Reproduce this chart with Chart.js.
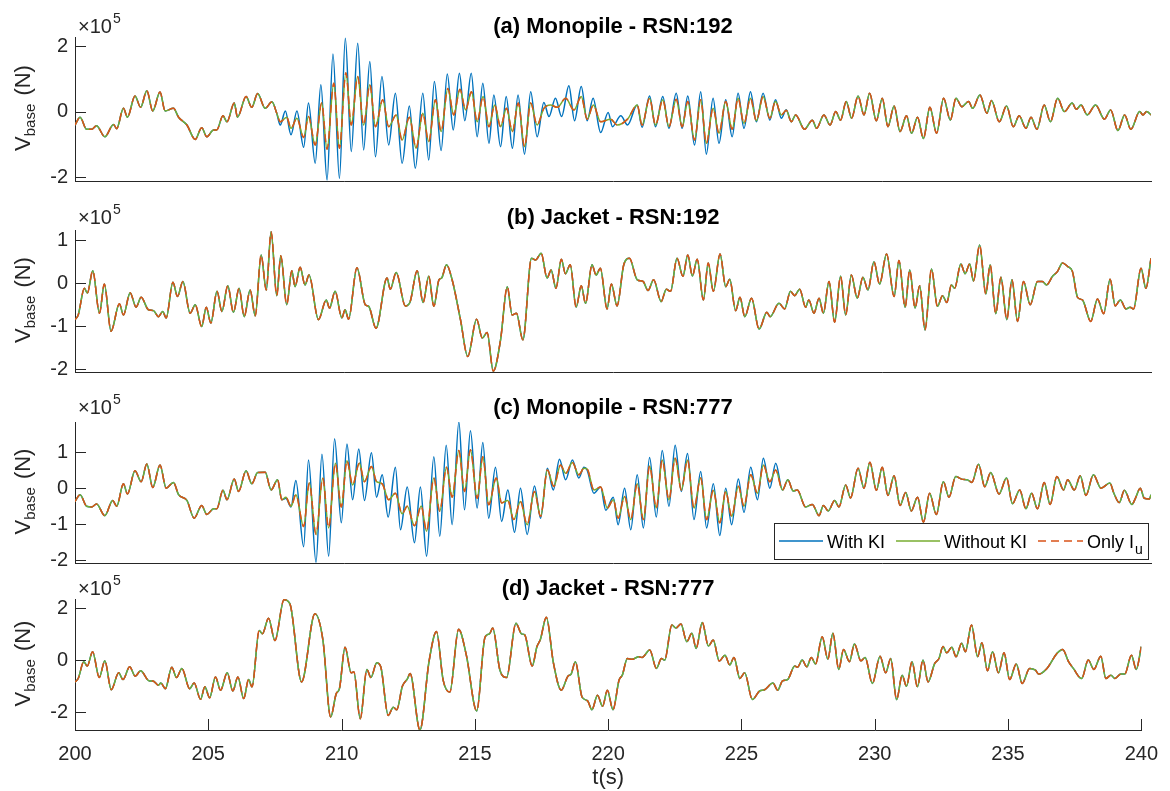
<!DOCTYPE html>
<html>
<head>
<meta charset="utf-8">
<script src="https://cdn.jsdelivr.net/npm/chart.js@4.4.1/dist/chart.umd.min.js"></script>
<style>
  html, body { margin: 0; padding: 0; background: #fff; }
  #wrap { position: relative; width: 1170px; height: 791px; }
  #wrap canvas { position: absolute; left: 0; top: 0; }
</style>
</head>
<body>
<div id="wrap">
  <canvas id="pa" width="1170" height="791"></canvas>
  <canvas id="pb" width="1170" height="791"></canvas>
  <canvas id="pc" width="1170" height="791"></canvas>
  <canvas id="pd" width="1170" height="791"></canvas>
</div>
<script>
// ─── DATA (t in s, V_base in units of 1e5 N) ─────────────────
const xTicks = [200, 205, 210, 215, 220, 225, 230, 235, 240];
const aTicks = [-2, 0, 2];
const bTicks = [-2, -1, 0, 1];
const cTicks = [-2, -1, 0, 1];
const dTicks = [-2, 0, 2];

// (a) Monopile - RSN:192
const aEarly = [[200.00,-0.41],[200.19,-0.17],[200.43,-0.54],[200.62,-0.54],[200.80,-0.43],[201.11,-0.77],[201.43,-0.39],[201.55,-0.52],[201.80,0.10],[201.95,-0.17],[202.23,0.48],[202.44,0.13],[202.67,0.64],[202.89,0.02],[203.16,0.60],[203.35,0.02],[203.66,0.10],[203.85,-0.17],[204.16,-0.41],[204.47,-0.85],[204.71,-0.49],[204.90,-0.77],[205.15,-0.56],[205.27,-0.56],[205.50,-0.13],[205.65,-0.31],[205.92,0.26],[206.04,-0.17],[206.36,0.46],[206.57,0.13],[206.79,0.55],[207.07,0.10],[207.32,0.30]];
const aWithMid = [[207.50,-0.05],[207.63,-0.41],[207.82,0.02],[208.03,-0.71],[208.25,0.02],[208.50,-1.09],[208.68,0.26],[208.93,-1.58],[209.14,0.82],[209.37,-2.09],[209.59,1.76],[209.83,-2.04],[210.05,2.24],[210.27,-1.22],[210.51,2.09],[210.73,-1.17],[210.96,1.53],[211.17,-1.38],[211.41,1.07],[211.66,-1.02],[211.91,0.56],[212.16,-1.58],[212.43,0.17],[212.65,-1.73],[212.93,0.56],[213.15,-1.48],[213.36,0.92],[213.61,-1.19],[213.84,1.15],[214.06,-0.56],[214.29,1.17],[214.49,-0.28],[214.73,1.17],[214.95,-0.77],[215.16,0.87],[215.39,-0.97],[215.57,0.51],[215.82,-1.07],[216.03,0.46],[216.26,-1.12],[216.47,0.51],[216.71,-1.30],[216.94,0.61],[217.18,-0.77],[217.43,0.28],[217.62,-0.15],[217.86,0.41],[218.09,-0.15],[218.36,0.79],[218.57,-0.28],[218.82,0.77],[219.04,-0.28],[219.26,0.41],[219.54,-0.64],[219.82,-0.03],[219.98,-0.46],[220.29,-0.13],[220.54,-0.41],[220.90,0.20],[221.08,-0.48],[221.36,0.48],[221.58,-0.46],[221.85,0.46],[222.08,-0.51],[222.35,0.56],[222.57,-0.51],[222.78,0.48],[223.03,-1.02],[223.26,0.61],[223.47,-1.30],[223.72,0.41],[223.94,-0.97],[224.19,0.36],[224.43,-0.77],[224.65,0.56],[224.87,-0.51],[225.11,0.61],[225.33,-0.31],[225.58,0.56],[225.83,-0.26],[226.04,0.36],[226.26,-0.20],[226.44,0.06]];
const aWithoutMid = [[207.50,-0.05],[207.63,-0.31],[207.87,-0.17],[208.03,-0.51],[208.25,-0.20],[208.50,-0.79],[208.68,-0.15],[208.93,-1.02],[209.17,0.26],[209.37,-1.15],[209.62,0.87],[209.83,-1.12],[210.07,1.19],[210.27,-0.41],[210.51,1.07],[210.73,-0.41],[210.96,0.82],[211.17,-0.46],[211.44,0.36],[211.66,-0.46],[211.94,-0.10],[212.16,-0.87],[212.43,-0.17],[212.68,-1.12],[212.93,-0.05],[213.15,-0.92],[213.40,0.36],[213.61,-0.61],[213.86,0.71],[214.08,-0.10],[214.31,0.68],[214.52,0.05],[214.74,0.61],[214.95,-0.31],[215.17,0.46],[215.39,-0.46],[215.60,0.20],[215.82,-0.46],[216.04,0.10],[216.26,-0.61],[216.48,0.26],[216.71,-1.07],[216.94,0.26],[217.18,-0.41],[217.43,0.10],[217.68,0.20],[217.93,0.13],[218.24,0.41],[218.55,0.05],[218.82,0.46],[219.04,-0.23],[219.27,0.20],[219.54,-0.31],[219.91,-0.23],[220.16,-0.41],[220.54,-0.23],[220.90,0.20],[221.08,-0.41],[221.36,0.41],[221.58,-0.41],[221.85,0.36],[222.08,-0.46],[222.35,0.38],[222.57,-0.46],[222.78,0.31],[223.03,-0.87],[223.26,0.36],[223.47,-0.97],[223.72,0.10],[223.94,-0.66],[224.19,0.31],[224.43,-0.54],[224.65,0.41],[224.87,-0.36],[225.11,0.41],[225.33,-0.28],[225.58,0.46],[225.83,-0.20],[226.04,0.31],[226.26,-0.10],[226.44,0.04]];
const aTail = [[226.63,-0.31],[226.79,-0.10],[227.12,-0.54],[227.41,-0.26],[227.57,-0.51],[227.84,-0.10],[228.07,-0.41],[228.28,0.00],[228.46,-0.26],[228.67,0.31],[228.87,-0.20],[229.11,0.48],[229.33,-0.10],[229.54,0.56],[229.79,-0.28],[230.01,0.41],[230.22,-0.46],[230.45,0.17],[230.67,-0.61],[230.91,-0.13],[231.10,-0.66],[231.32,-0.17],[231.54,-0.82],[231.78,0.13],[232.03,-0.66],[232.29,0.41],[232.54,-0.26],[232.75,0.41],[232.97,0.15],[233.22,0.31],[233.37,0.10],[233.64,0.51],[233.90,-0.05],[234.07,0.34],[234.36,-0.31],[234.63,0.17],[234.88,-0.46],[235.10,-0.13],[235.35,-0.51],[235.54,-0.17],[235.76,-0.54],[236.03,0.20],[236.26,-0.31],[236.53,0.41],[236.78,0.00],[237.07,0.26],[237.22,0.07],[237.40,0.20],[237.63,-0.10],[237.94,0.20],[238.27,-0.23],[238.50,0.05],[238.77,-0.58],[239.02,-0.10],[239.25,-0.54],[239.58,0.00],[239.70,-0.10],[239.84,0.00],[240.00,-0.10]];

// (b) Jacket - RSN:192 (the three cases overlap)
const bAll = [[200.00,-0.85],[200.12,-0.74],[200.35,-0.12],[200.46,-0.23],[200.66,0.29],[200.91,-0.70],[201.09,-0.02],[201.34,-1.12],[201.65,-0.48],[201.80,-0.74],[202.05,-0.22],[202.27,-0.56],[202.46,-0.33],[202.73,-0.62],[202.92,-0.64],[203.10,-0.78],[203.26,-0.66],[203.39,-0.81],[203.64,0.02],[203.81,-0.31],[204.01,0.04],[204.28,-0.70],[204.47,-0.50],[204.71,-1.01],[204.88,-0.56],[205.05,-0.93],[205.28,-0.19],[205.46,-0.66],[205.68,-0.06],[205.89,-0.68],[206.10,-0.12],[206.29,-0.78],[206.51,-0.16],[206.70,-0.76],[206.92,0.66],[207.11,-0.16],[207.29,1.20],[207.50,-0.29],[207.65,0.64],[207.87,-0.50],[208.06,0.29],[208.18,-0.08],[208.37,0.37],[208.55,-0.04],[208.70,0.19],[209.05,-0.85],[209.34,-0.39],[209.46,-0.58],[209.67,-0.19],[209.92,-0.81],[210.04,-0.62],[210.17,-0.84],[210.48,0.36],[210.79,-0.50],[210.92,-0.54],[211.19,-1.05],[211.60,0.12],[211.72,-0.14],[211.94,0.25],[212.28,-0.53],[212.46,-0.43],[212.72,0.29],[212.94,-0.45],[213.15,0.16],[213.34,-0.54],[213.53,0.08],[213.63,0.12],[213.81,0.43],[214.02,0.08],[214.33,-0.85],[214.60,-1.71],[214.93,-0.84],[215.14,-1.28],[215.32,-1.15],[215.55,-2.05],[215.82,-1.32],[216.07,-0.08],[216.25,-0.74],[216.41,-0.70],[216.65,-1.32],[216.97,0.58],[217.12,0.54],[217.33,0.70],[217.55,0.12],[217.70,0.31],[217.88,-0.12],[218.08,0.56],[218.23,0.22],[218.41,0.43],[218.63,-0.56],[218.82,-0.06],[218.98,-0.47],[219.22,0.43],[219.37,0.19],[219.53,0.35],[219.78,-0.60],[219.94,-0.02],[220.15,-0.53],[220.40,0.43],[220.61,0.58],[220.90,0.08],[221.12,0.04],[221.30,-0.17],[221.51,0.08],[221.79,-0.43],[221.98,-0.14],[222.14,-0.19],[222.38,0.58],[222.60,0.16],[222.78,0.66],[222.95,0.17],[223.13,0.56],[223.36,-0.39],[223.54,0.47],[223.73,-0.19],[223.98,0.68],[224.19,-0.08],[224.34,0.09],[224.56,-0.64],[224.72,-0.33],[224.90,-0.78],[225.15,-0.35],[225.43,-1.07],[225.72,-0.68],[225.84,-0.78],[226.17,-0.47],[226.38,-0.60],[226.60,-0.19],[226.75,-0.29],[226.94,-0.14],[227.16,-0.56],[227.28,-0.39],[227.47,-0.70],[227.66,-0.35],[227.82,-0.70],[228.03,0.04],[228.24,-0.91],[228.46,0.16],[228.65,-0.74],[228.86,0.19],[229.08,-0.35],[229.29,0.14],[229.48,-0.16],[229.70,0.50],[229.91,-0.02],[230.17,0.68],[230.45,-0.31],[230.63,0.53],[230.86,-0.56],[231.03,0.31],[231.23,-0.58],[231.40,-0.06],[231.60,-1.09],[231.84,0.33],[232.06,-0.54],[232.25,-0.29],[232.41,-0.45],[232.58,-0.04],[232.70,-0.12],[232.93,0.45],[233.09,0.22],[233.26,0.45],[233.40,0.05],[233.63,0.89],[233.86,-0.25],[234.02,0.43],[234.23,-0.71],[234.42,0.14],[234.64,-0.85],[234.83,0.08],[235.04,-0.89],[235.26,0.04],[235.51,-0.50],[235.78,0.04],[235.96,0.04],[236.12,-0.04],[236.34,0.16],[236.52,0.27],[236.71,0.47],[236.90,0.39],[237.08,0.27],[237.27,-0.33],[237.45,-0.39],[237.76,-0.89],[238.01,-0.37],[238.24,-0.71],[238.48,0.09],[238.67,-0.53],[238.86,-0.39],[239.07,-0.60],[239.22,-0.56],[239.35,-0.60],[239.63,0.35],[239.81,-0.12],[240.00,0.58]];

// (c) Monopile - RSN:777
const cEarly = [[200.00,-0.37],[200.19,-0.18],[200.43,-0.50],[200.62,-0.52],[200.80,-0.44],[201.11,-0.76],[201.40,-0.34],[201.55,-0.50],[201.80,0.12],[201.95,-0.16],[202.23,0.48],[202.46,0.18],[202.67,0.67],[202.89,0.02],[203.16,0.64],[203.39,0.00],[203.66,0.16],[203.85,-0.18],[204.16,-0.34],[204.43,-0.83],[204.71,-0.48],[204.90,-0.73],[205.15,-0.57],[205.27,-0.57],[205.50,-0.06],[205.65,-0.32],[205.92,0.25],[206.08,-0.09],[206.36,0.48],[206.57,0.12],[206.79,0.43],[207.07,0.44],[207.29,-0.05],[207.53,0.23],[207.69,-0.32]];
const cWithMid = [[207.84,-0.28],[208.03,-0.52],[208.21,0.21],[208.50,-1.62],[208.68,0.78],[208.96,-2.05],[209.18,0.94],[209.43,-1.88],[209.65,1.37],[209.90,-0.96],[210.11,1.22],[210.32,-0.32],[210.55,1.08],[210.76,-0.34],[211.02,0.98],[211.21,-0.25],[211.42,0.37],[211.64,-0.80],[211.91,0.58],[212.10,-1.15],[212.35,0.03],[212.62,-1.51],[212.84,0.03],[213.07,-1.88],[213.34,0.87],[213.56,-1.33],[213.80,1.19],[214.02,-1.01],[214.27,1.83],[214.48,-0.60],[214.70,1.59],[214.95,-0.55],[215.16,1.26],[215.38,-0.83],[215.63,0.58],[215.86,-0.92],[216.09,-0.05],[216.34,-1.22],[216.56,0.00],[216.81,-1.28],[217.08,0.06],[217.31,-0.83],[217.56,0.55],[217.78,-0.05],[218.01,0.80],[218.24,0.23],[218.49,0.78],[218.73,0.28],[218.92,0.58],[219.04,0.50],[219.29,-0.14],[219.54,0.03],[219.73,-0.61],[220.01,-0.25],[220.19,-1.01],[220.43,0.00],[220.66,-1.15],[220.90,0.37],[221.13,-1.10],[221.36,0.85],[221.61,-0.80],[221.83,1.04],[222.08,-0.50],[222.31,1.19],[222.54,-0.09],[222.77,0.96],[223.01,-0.87],[223.26,0.46],[223.48,-1.10],[223.73,0.12],[223.97,-1.31],[224.19,0.00],[224.41,-1.01],[224.66,0.25],[224.87,-0.67],[225.12,0.58],[225.37,-0.32],[225.59,0.83],[225.83,0.00],[226.05,0.69]];
const cWithoutMid = [[207.84,-0.25],[208.03,-0.50],[208.21,-0.18],[208.50,-1.06],[208.71,0.14],[208.96,-1.28],[209.21,0.28],[209.43,-1.10],[209.68,0.69],[209.90,-0.52],[210.11,0.76],[210.32,0.09],[210.57,0.69],[210.76,0.18],[211.02,0.60],[211.21,0.18],[211.42,0.12],[211.66,-0.32],[211.91,-0.14],[212.16,-0.71],[212.35,-0.50],[212.62,-1.04],[212.87,-0.49],[213.07,-1.19],[213.34,0.28],[213.56,-0.64],[213.81,0.58],[214.02,-0.25],[214.27,1.04],[214.48,-0.09],[214.70,1.06],[214.95,-0.28],[215.16,0.87],[215.38,-0.46],[215.66,0.28],[215.86,-0.41],[216.09,-0.34],[216.31,-0.87],[216.56,-0.37],[216.81,-1.01],[217.08,-0.09],[217.31,-0.78],[217.56,0.50],[217.80,0.05],[218.05,0.64],[218.24,0.41],[218.49,0.71],[218.73,0.37],[218.92,0.55],[219.04,0.53],[219.29,-0.05],[219.54,0.03],[219.79,-0.55],[220.01,-0.32],[220.19,-0.83],[220.43,-0.23],[220.66,-0.87],[220.90,0.12],[221.13,-0.87],[221.36,0.61],[221.61,-0.55],[221.83,0.78],[222.08,-0.32],[222.31,0.83],[222.54,-0.05],[222.77,0.78],[223.01,-0.55],[223.26,0.28],[223.48,-0.87],[223.73,-0.06],[223.97,-0.96],[224.19,-0.09],[224.41,-0.78],[224.66,0.05],[224.87,-0.50],[225.12,0.37],[225.37,-0.14],[225.59,0.64],[225.83,0.18],[226.05,0.50]];
const cTail = [[226.30,-0.05],[226.50,0.23],[226.70,-0.08],[226.85,-0.05],[227.16,-0.52],[227.41,-0.45],[227.66,-0.76],[227.82,-0.48],[228.00,-0.63],[228.24,-0.34],[228.40,-0.52],[228.65,0.09],[228.83,-0.27],[229.11,0.55],[229.33,0.00],[229.55,0.72],[229.79,-0.06],[230.01,0.58],[230.22,-0.20],[230.45,0.34],[230.67,-0.48],[230.88,-0.12],[231.09,-0.63],[231.32,-0.25],[231.54,-0.94],[231.77,-0.14],[232.02,-0.73],[232.28,0.18],[232.49,-0.25],[232.74,0.32],[232.96,0.25],[233.18,0.23],[233.34,0.16],[233.59,0.66],[233.82,0.04],[234.04,0.43],[234.35,-0.16],[234.63,0.28],[234.85,-0.43],[235.12,-0.05],[235.35,-0.57],[235.56,-0.14],[235.78,-0.57],[236.03,0.16],[236.25,-0.45],[236.50,0.32],[236.75,-0.05],[236.90,0.23],[237.15,-0.05],[237.37,0.34],[237.58,-0.20],[237.86,0.37],[238.14,0.00],[238.47,0.14],[238.62,-0.14],[238.82,-0.40],[239.01,-0.06],[239.29,-0.45],[239.42,-0.28],[239.60,0.00],[239.75,-0.28],[239.94,-0.30],[240.00,-0.18]];

// (d) Jacket - RSN:777 (the three cases overlap)
const dAll = [[200.00,-0.84],[200.12,-0.71],[200.33,-0.06],[200.46,-0.23],[200.66,0.32],[200.91,-0.67],[201.12,-0.03],[201.36,-1.14],[201.64,-0.49],[201.80,-0.75],[202.05,-0.26],[202.26,-0.62],[202.46,-0.41],[202.79,-0.80],[202.92,-0.80],[203.13,-0.97],[203.22,-0.88],[203.39,-1.10],[203.63,-0.28],[203.81,-0.67],[204.01,-0.32],[204.30,-1.10],[204.47,-0.88],[204.71,-1.51],[204.87,-1.03],[205.05,-1.45],[205.27,-0.65],[205.46,-1.16],[205.71,-0.49],[205.92,-1.19],[206.11,-0.65],[206.33,-1.48],[206.51,-0.75],[206.64,-1.03],[206.91,1.14],[207.03,1.01],[207.26,1.61],[207.50,0.75],[207.84,2.32],[208.06,2.17],[208.50,-0.84],[209.00,1.78],[209.30,0.77],[209.59,-2.19],[209.80,-1.29],[209.92,-1.10],[210.13,0.49],[210.36,-0.49],[210.46,-0.45],[210.70,-2.26],[210.95,-0.36],[211.10,-0.67],[211.32,-0.10],[211.47,-0.26],[211.75,-2.13],[211.94,-1.81],[212.07,-1.91],[212.28,-1.01],[212.47,-0.72],[212.57,-0.52],[212.94,-2.69],[213.28,-0.06],[213.56,1.10],[213.81,-0.77],[214.06,-1.23],[214.39,1.19],[214.68,0.19],[215.07,-1.96],[215.38,0.88],[215.55,1.01],[215.67,1.23],[215.94,-0.39],[216.19,-0.67],[216.54,1.42],[216.75,1.01],[216.87,0.97],[217.15,-0.23],[217.33,0.52],[217.46,0.80],[217.68,1.65],[217.95,-0.13],[218.24,-1.16],[218.49,-0.62],[218.61,-0.54],[218.77,-0.06],[219.02,-1.42],[219.23,-1.57],[219.39,-1.91],[219.60,-1.35],[219.79,-1.78],[219.97,-1.16],[220.18,-1.91],[220.41,-0.77],[220.53,-0.58],[220.72,0.06],[220.90,0.03],[221.15,0.13],[221.27,0.10],[221.56,0.39],[221.81,-0.32],[222.00,0.06],[222.12,0.00],[222.39,1.35],[222.54,1.23],[222.73,1.39],[222.95,0.71],[223.14,1.03],[223.30,0.45],[223.53,1.45],[223.76,0.54],[223.94,0.77],[224.17,-0.04],[224.38,0.19],[224.56,-0.19],[224.72,0.10],[224.94,-0.71],[225.12,-0.49],[225.41,-1.52],[225.68,-1.19],[225.87,-1.14],[226.18,-0.88],[226.36,-1.16],[226.54,-0.80],[226.73,-0.75],[227.00,-0.23],[227.10,-0.28],[227.28,0.00],[227.45,-0.26],[227.62,0.10],[227.78,-0.15],[228.03,0.90],[228.24,0.03],[228.43,1.03],[228.65,-0.36],[228.83,0.41],[229.05,-0.06],[229.24,0.62],[229.48,-0.03],[229.64,0.10],[229.91,-0.90],[230.20,0.15],[230.41,-0.49],[230.60,0.06],[230.82,-1.52],[231.03,-0.58],[231.19,-1.01],[231.40,-0.06],[231.60,-1.03],[231.81,0.00],[232.00,-0.84],[232.25,-0.13],[232.41,0.06],[232.56,0.52],[232.70,0.28],[232.89,0.49],[233.05,0.13],[233.26,0.65],[233.40,0.32],[233.63,1.35],[233.86,0.13],[234.02,0.67],[234.23,-0.41],[234.42,0.32],[234.64,-0.49],[234.85,0.28],[235.06,-0.75],[235.31,-0.15],[235.53,-0.90],[235.81,-0.32],[236.03,-0.39],[236.15,-0.54],[236.46,-0.32],[236.84,0.26],[237.05,0.41],[237.27,-0.06],[237.45,-0.32],[237.76,-0.71],[238.01,0.00],[238.22,-0.36],[238.48,0.15],[238.67,-0.71],[238.86,-0.58],[239.01,-0.71],[239.23,-0.54],[239.38,-0.54],[239.63,0.19],[239.81,-0.36],[240.00,0.52]];

// ─── STYLE ───────────────────────────────────────────────────
const FONT  = '"Liberation Sans", Arial, Helvetica, sans-serif';
const AXIS  = '#262626';
const BLUE  = '#0072BD';
const GREEN = '#77AC30';
const ORANGE = '#D95319';
const XAXIS_H = 40;   // room under panel (d) for the tick labels

const panels = [
  { id: 'pa', title: '(a) Monopile - RSN:192', top: 37,  bottom: 181, min: -2.12, max: 2.28, ticks: aTicks, titleY: 33,
    withKI: aEarly.concat(aWithMid, aTail), withoutKI: aEarly.concat(aWithoutMid, aTail) },
  { id: 'pb', title: '(b) Jacket - RSN:192',   top: 230, bottom: 372, min: -2.07, max: 1.24, ticks: bTicks, titleY: 224,
    withKI: bAll, withoutKI: bAll },
  { id: 'pc', title: '(c) Monopile - RSN:777', top: 422, bottom: 563, min: -2.07, max: 1.83, ticks: cTicks, titleY: 414,
    withKI: cEarly.concat(cWithMid, cTail), withoutKI: cEarly.concat(cWithoutMid, cTail), legend: true },
  { id: 'pd', title: '(d) Jacket - RSN:777',   top: 599, bottom: 730, min: -2.69, max: 2.35, ticks: dTicks, titleY: 595,
    withKI: dAll, withoutKI: dAll, xLabels: true }
];

const toXY = pts => pts.map(([t, v]) => ({ x: t, y: v }));

// ─── DECORATION (titles, ×10^5, labels, inward ticks, legend) ─
function decor(p) {
  return {
    id: 'decor_' + p.id,
    afterDraw(chart) {
      const ctx = chart.ctx;
      const { left, right, top, bottom } = chart.chartArea;
      const xs = chart.scales.x, ys = chart.scales.y;
      ctx.save();

      // inward tick marks
      ctx.strokeStyle = AXIS;
      ctx.lineWidth = 1;
      ctx.beginPath();
      p.ticks.forEach(v => {
        const y = Math.round(ys.getPixelForValue(v)) + 0.5;
        ctx.moveTo(left, y); ctx.lineTo(left + 11, y);
      });
      if (p.xLabels) {
        xTicks.forEach(v => {
          const x = Math.round(xs.getPixelForValue(v)) + 0.5;
          ctx.moveTo(x, bottom); ctx.lineTo(x, bottom - 11);
        });
      }
      ctx.stroke();

      // title
      ctx.fillStyle = '#000';
      ctx.font = `bold 22px ${FONT}`;
      ctx.textAlign = 'center';
      ctx.textBaseline = 'alphabetic';
      ctx.fillText(p.title, (left + right) / 2, p.titleY);

      // exponent ×10^5
      ctx.fillStyle = AXIS;
      ctx.textAlign = 'left';
      ctx.font = `20px ${FONT}`;
      ctx.fillText('×10', left + 3, p.titleY);
      const we = ctx.measureText('×10').width;
      ctx.font = `14px ${FONT}`;
      ctx.fillText('5', left + 4 + we, p.titleY - 10);

      // y label V_base (N)
      ctx.save();
      ctx.translate(22, (top + bottom) / 2);
      ctx.rotate(-Math.PI / 2);
      ctx.font = `22px ${FONT}`;
      const wV = ctx.measureText('V').width;
      const wN = ctx.measureText(' (N)').width;
      ctx.font = `15px ${FONT}`;
      const wb = ctx.measureText('base').width;
      const x0 = -(wV + wb + wN) / 2;
      ctx.fillStyle = AXIS;
      ctx.font = `22px ${FONT}`;
      ctx.fillText('V', x0, 8);
      ctx.font = `15px ${FONT}`;
      ctx.fillText('base', x0 + wV, 13);
      ctx.font = `22px ${FONT}`;
      ctx.fillText(' (N)', x0 + wV + wb + 2, 8);
      ctx.restore();

      // x label
      if (p.xLabels) {
        ctx.font = `22px ${FONT}`;
        ctx.textAlign = 'center';
        ctx.textBaseline = 'middle';
        ctx.fillText('t(s)', (left + right) / 2, 778);
      }

      // legend
      if (p.legend) {
        const bx = 774.5, by = 523.5, bw = 374, bh = 36, ly = 541;
        ctx.fillStyle = '#fff';
        ctx.fillRect(bx, by, bw, bh);
        ctx.strokeStyle = AXIS;
        ctx.lineWidth = 1;
        ctx.strokeRect(bx, by, bw, bh);
        const items = [
          { c: BLUE,   x1: 779,  x2: 823,  tx: 827,  text: 'With KI',    dash: [] },
          { c: GREEN,  x1: 896,  x2: 940,  tx: 944,  text: 'Without KI', dash: [] },
          { c: ORANGE, x1: 1038, x2: 1083, tx: 1087, text: 'Only I',     dash: [8, 5], sub: 'u' }
        ];
        items.forEach(it => {
          ctx.strokeStyle = it.c;
          ctx.lineWidth = 1.5;
          ctx.setLineDash(it.dash);
          ctx.beginPath();
          ctx.moveTo(it.x1, ly); ctx.lineTo(it.x2, ly);
          ctx.stroke();
          ctx.setLineDash([]);
          ctx.fillStyle = '#000';
          ctx.font = `18px ${FONT}`;
          ctx.textAlign = 'left';
          ctx.textBaseline = 'alphabetic';
          ctx.fillText(it.text, it.tx, ly + 7);
          if (it.sub) {
            const wt = ctx.measureText(it.text).width;
            ctx.font = `14px ${FONT}`;
            ctx.fillText(it.sub, it.tx + wt + 1, ly + 13);
          }
        });
      }
      ctx.restore();
    }
  };
}

// ─── CHARTS ──────────────────────────────────────────────────
panels.forEach(p => {
  const xh = p.xLabels ? XAXIS_H : 0;
  new Chart(document.getElementById(p.id), {
    type: 'line',
    data: {
      datasets: [
        { label: 'With KI', data: toXY(p.withKI), borderColor: BLUE, borderWidth: 1.5, order: 3 },
        { label: 'Without KI', data: toXY(p.withoutKI), borderColor: GREEN, borderWidth: 1.5, order: 2 },
        { label: 'Only Iu', data: toXY(p.withoutKI), borderColor: ORANGE, borderWidth: 1.5, borderDash: [8, 5], order: 1 }
      ]
    },
    options: {
      responsive: false,
      animation: false,
      events: [],
      elements: {
        point: { radius: 0 },
        line: { cubicInterpolationMode: 'monotone', fill: false }
      },
      layout: { padding: { left: 0, right: 19, top: p.top, bottom: 791 - p.bottom - xh } },
      plugins: { legend: { display: false }, tooltip: { enabled: false } },
      scales: {
        x: {
          type: 'linear', min: 200, max: 240,
          afterFit: s => { s.height = xh; },
          afterBuildTicks: s => { s.ticks = xTicks.map(v => ({ value: v })); },
          grid: { display: false, drawTicks: false },
          border: { display: true, color: AXIS, width: 1 },
          ticks: { display: !!p.xLabels, color: AXIS, padding: 12, maxRotation: 0, autoSkip: false,
                   font: { family: FONT, size: 20 } }
        },
        y: {
          type: 'linear', min: p.min, max: p.max,
          afterFit: s => { s.width = 75; },
          afterBuildTicks: s => { s.ticks = p.ticks.map(v => ({ value: v })); },
          grid: { display: false, drawTicks: false },
          border: { display: true, color: AXIS, width: 1 },
          ticks: { color: AXIS, padding: 7, font: { family: FONT, size: 20 } }
        }
      }
    },
    plugins: [decor(p)]
  });
});
</script>
</body>
</html>
